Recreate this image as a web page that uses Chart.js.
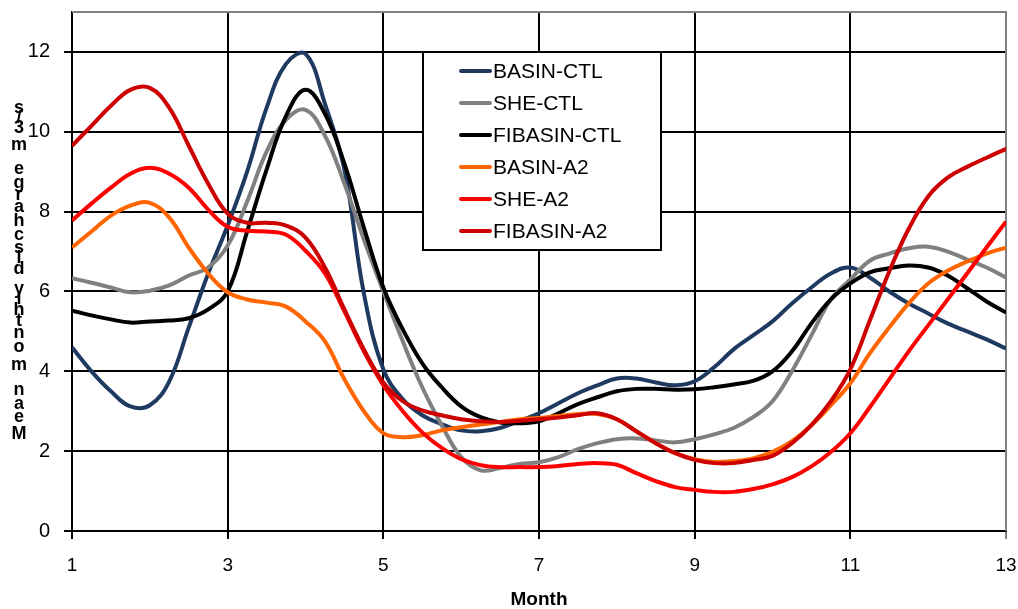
<!DOCTYPE html>
<html>
<head>
<meta charset="utf-8">
<title>Mean monthly discharge</title>
<script src="https://cdn.jsdelivr.net/npm/chart.js@4.4.1/dist/chart.umd.min.js"></script>
<style>
  html, body { margin: 0; padding: 0; background: #ffffff; }
  #wrap { width: 1018px; height: 609px; }
</style>
</head>
<body>
<div id="wrap"><canvas id="chart" width="1018" height="609"></canvas></div>
<script>
// Month positions (quarter-month steps, 13 = January of the following year)
const months = [1, 1.25, 1.5, 1.75, 2, 2.25, 2.5, 2.75, 3, 3.25, 3.5, 3.75, 4, 4.25, 4.5, 4.75,
  5, 5.25, 5.5, 5.75, 6, 6.25, 6.5, 6.75, 7, 7.25, 7.5, 7.75, 8, 8.25, 8.5, 8.75,
  9, 9.25, 9.5, 9.75, 10, 10.25, 10.5, 10.75, 11, 11.25, 11.5, 11.75, 12, 12.25, 12.5, 12.75, 13];

const xTicks = [1, 3, 5, 7, 9, 11, 13];
const yTicks = [0, 2, 4, 6, 8, 10, 12];

// Mean monthly discharge (m3/s)
const basinCtl = [4.60, 4.00, 3.50, 3.12, 3.15, 3.75, 5.10, 6.45, 7.65, 9.00, 10.60, 11.70, 11.95, 10.70, 9.05, 5.95,
  4.05, 3.30, 2.90, 2.68, 2.52, 2.50, 2.58, 2.76, 2.95, 3.20, 3.45, 3.65, 3.82, 3.82, 3.72, 3.65,
  3.75, 4.10, 4.55, 4.90, 5.25, 5.70, 6.10, 6.45, 6.60, 6.35, 6.00, 5.70, 5.45, 5.20, 5.00, 4.80, 4.57];

const sheCtl = [6.33, 6.22, 6.10, 5.98, 6.02, 6.15, 6.40, 6.60, 7.15, 8.25, 9.50, 10.30, 10.55, 9.90, 8.70, 7.30,
  6.00, 4.75, 3.60, 2.65, 1.85, 1.52, 1.58, 1.68, 1.72, 1.85, 2.05, 2.20, 2.30, 2.32, 2.27, 2.22,
  2.30, 2.42, 2.58, 2.85, 3.25, 4.00, 4.90, 5.80, 6.30, 6.77, 6.95, 7.08, 7.12, 7.00, 6.80, 6.60, 6.35];

const fibasinCtl = [5.52, 5.40, 5.30, 5.22, 5.25, 5.27, 5.33, 5.55, 6.00, 7.50, 9.05, 10.40, 11.05, 10.45, 9.20, 7.60,
  6.10, 5.05, 4.20, 3.60, 3.12, 2.85, 2.72, 2.70, 2.75, 2.95, 3.18, 3.35, 3.50, 3.56, 3.56, 3.54,
  3.55, 3.60, 3.67, 3.76, 4.00, 4.50, 5.20, 5.80, 6.20, 6.48, 6.58, 6.65, 6.60, 6.40, 6.08, 5.75, 5.47];

const basinA2 = [7.10, 7.50, 7.90, 8.15, 8.22, 7.85, 7.10, 6.45, 5.98, 5.80, 5.72, 5.62, 5.25, 4.75, 3.80, 3.00,
  2.45, 2.35, 2.40, 2.52, 2.60, 2.67, 2.73, 2.80, 2.83, 2.88, 2.93, 2.93, 2.80, 2.50, 2.20, 1.95,
  1.80, 1.73, 1.75, 1.82, 1.98, 2.25, 2.65, 3.15, 3.70, 4.45, 5.10, 5.70, 6.20, 6.52, 6.75, 6.95, 7.10];

const sheA2 = [7.78, 8.20, 8.60, 8.95, 9.10, 8.95, 8.60, 8.05, 7.62, 7.52, 7.50, 7.42, 7.02, 6.45, 5.50, 4.50,
  3.65, 3.00, 2.47, 2.08, 1.80, 1.65, 1.60, 1.60, 1.60, 1.63, 1.68, 1.70, 1.66, 1.45, 1.25, 1.10,
  1.03, 0.98, 0.98, 1.05, 1.17, 1.35, 1.62, 1.98, 2.45, 3.10, 3.80, 4.50, 5.15, 5.80, 6.45, 7.10, 7.75];

const fibasinA2 = [9.65, 10.15, 10.65, 11.05, 11.10, 10.60, 9.65, 8.70, 7.95, 7.72, 7.72, 7.65, 7.35, 6.60, 5.55, 4.55,
  3.72, 3.25, 3.02, 2.90, 2.80, 2.75, 2.73, 2.76, 2.80, 2.84, 2.90, 2.95, 2.80, 2.50, 2.20, 1.95,
  1.78, 1.70, 1.70, 1.78, 1.88, 2.20, 2.65, 3.25, 4.05, 5.27, 6.50, 7.57, 8.38, 8.85, 9.12, 9.35, 9.57];

const seriesNames = ['BASIN-CTL', 'SHE-CTL', 'FIBASIN-CTL', 'BASIN-A2', 'SHE-A2', 'FIBASIN-A2'];
const seriesValues = [basinCtl, sheCtl, fibasinCtl, basinA2, sheA2, fibasinA2];
const seriesColors = ['#1F3A60', '#808080', '#000000', '#FF6600', '#FF0000', '#CC0000'];

const yTitle = 'Mean monthly discharge m3/s';
const xTitle = 'Month';

const FONT = '"Liberation Sans", Arial, sans-serif';

const datasets = seriesNames.map((name, i) => ({
  label: name,
  data: months.map((m, k) => ({ x: m, y: seriesValues[i][k] })),
  borderColor: seriesColors[i],
  backgroundColor: seriesColors[i],
  borderWidth: 4,
  pointRadius: 0,
  pointHoverRadius: 0,
  tension: 0.4,
  fill: false,
  // later series are painted over earlier ones
  order: seriesNames.length - i
}));

// Grey frame on the top and right of the plot area
const frame = {
  id: 'frame',
  beforeDatasetsDraw(chart) {
    const { ctx, chartArea: a } = chart;
    ctx.save();
    ctx.strokeStyle = '#808080';
    ctx.lineWidth = 2;
    ctx.beginPath();
    ctx.moveTo(a.left, a.top);
    ctx.lineTo(a.right, a.top);
    ctx.lineTo(a.right, a.bottom);
    ctx.stroke();
    ctx.restore();
  }
};

// Boxed legend inside the plot
const boxLegend = {
  id: 'boxLegend',
  afterDatasetsDraw(chart) {
    const { ctx } = chart;
    const x0 = 423, y0 = 52, w = 238, h = 198;
    ctx.save();
    ctx.fillStyle = '#ffffff';
    ctx.fillRect(x0, y0, w, h);
    ctx.strokeStyle = '#000000';
    ctx.lineWidth = 2;
    ctx.strokeRect(x0, y0, w, h);
    ctx.font = '21px ' + FONT;
    ctx.textBaseline = 'middle';
    ctx.textAlign = 'left';
    chart.data.datasets.forEach((ds, i) => {
      const y = 71 + i * 32;
      ctx.strokeStyle = ds.borderColor;
      ctx.lineWidth = 4;
      ctx.lineCap = 'round';
      ctx.beginPath();
      ctx.moveTo(461, y);
      ctx.lineTo(490, y);
      ctx.stroke();
      ctx.fillStyle = '#000000';
      ctx.fillText(ds.label, 493, y + 1);
    });
    ctx.restore();
  }
};

// Axis title: upright letters stacked from the bottom up, each one
// advanced by its own width as if the line of text were rotated
const stackedTitle = {
  id: 'stackedTitle',
  afterDraw(chart) {
    const { ctx } = chart;
    const chars = Array.from(yTitle);
    ctx.save();
    ctx.font = 'bold 24px ' + FONT;
    const adv = chars.map(c => ctx.measureText(c).width);
    ctx.font = 'bold 18px ' + FONT;
    ctx.fillStyle = '#000000';
    ctx.textAlign = 'center';
    ctx.textBaseline = 'middle';
    let pos = 444;
    chars.forEach((c, i) => {
      ctx.fillText(c, 19, pos - adv[i] / 2);
      pos -= adv[i];
    });
    ctx.restore();
  }
};

// Keep the plot area fixed: no extra room for overhanging tick labels
function noLabelPadding(scale) {
  scale.paddingTop = 0;
  scale.paddingBottom = 0;
  scale.paddingLeft = 0;
  scale.paddingRight = 0;
}

new Chart(document.getElementById('chart'), {
  type: 'line',
  data: { datasets },
  plugins: [frame, boxLegend, stackedTitle],
  options: {
    responsive: false,
    animation: false,
    devicePixelRatio: 1,
    layout: { padding: { top: 12, right: 12, left: 0, bottom: 0 }, autoPadding: false },
    plugins: {
      legend: { display: false },
      tooltip: { enabled: false },
      title: { display: false }
    },
    scales: {
      x: {
        type: 'linear',
        min: 1,
        max: 13,
        afterBuildTicks(scale) { scale.ticks = xTicks.map(v => ({ value: v })); },
        afterFit(scale) { scale.height = 78; noLabelPadding(scale); },
        grid: {
          color: ctx => (ctx.tick && ctx.tick.value === 13) ? '#808080' : '#000000',
          lineWidth: 2,
          tickLength: 8,
          drawTicks: true
        },
        border: { display: true, color: '#000000', width: 2 },
        ticks: {
          color: '#000000',
          font: { family: FONT, size: 19 },
          padding: 15,
          maxRotation: 0,
          autoSkip: false
        },
        title: {
          display: true,
          text: xTitle,
          color: '#000000',
          font: { family: FONT, size: 19, weight: 'bold' },
          padding: { top: 0, bottom: -2 }
        }
      },
      y: {
        type: 'linear',
        min: 0,
        max: 13,
        afterBuildTicks(scale) { scale.ticks = yTicks.map(v => ({ value: v })); },
        afterFit(scale) { scale.width = 72; noLabelPadding(scale); },
        grid: {
          color: '#000000',
          lineWidth: 2,
          tickLength: 8,
          drawTicks: true
        },
        border: { display: true, color: '#000000', width: 2 },
        ticks: {
          color: '#000000',
          font: { family: FONT, size: 20 },
          padding: 14,
          autoSkip: false
        }
      }
    }
  }
});
</script>
</body>
</html>
